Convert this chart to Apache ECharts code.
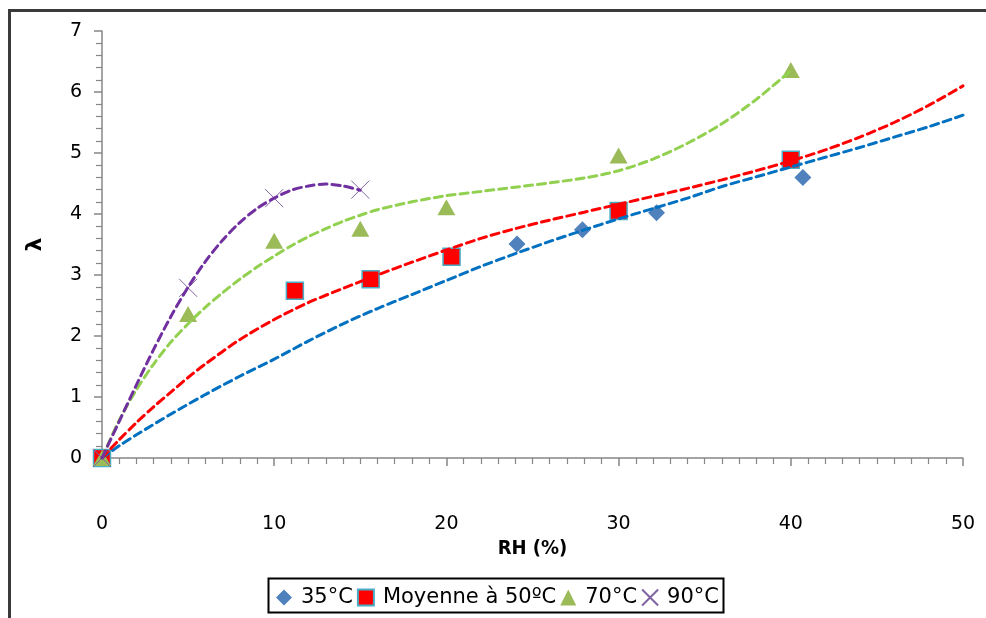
<!DOCTYPE html>
<html>
<head>
<meta charset="utf-8">
<script src="https://cdn.jsdelivr.net/npm/echarts@6/dist/echarts.min.js"></script>
<style>
  html, body { margin: 0; padding: 0; background: #ffffff; }
  #chart { width: 986px; height: 618px; }
</style>
</head>
<body>
<div id="chart"></div>
<script>
// Measured points: relative humidity (%) vs lambda
const rh35 = [0, 24.1, 27.9, 32.2, 40.7];
const lambda35 = [0, 3.51, 3.74, 4.02, 4.60];
const rh50 = [0, 11.2, 15.6, 20.3, 30, 40];
const lambda50 = [0, 2.74, 2.93, 3.30, 4.05, 4.89];
const rh70 = [0, 5, 10, 15, 20, 30, 40];
const lambda70 = [0, 2.36, 3.56, 3.76, 4.11, 4.96, 6.36];
const rh90 = [0, 5, 10, 15];
const lambda90 = [0, 2.79, 4.26, 4.40];

// Trend curves (dashed), sampled along each fitted curve
const trend35X = [0, 1, 2, 4, 6, 8, 10, 12, 14, 16, 18, 20, 22, 24, 26, 28, 30, 32, 34, 36, 38, 40, 42, 44, 46, 48, 50];
const trend35Y = [0, 0.2, 0.38, 0.72, 1.04, 1.34, 1.62, 1.92, 2.2, 2.45, 2.68, 2.91, 3.14, 3.35, 3.55, 3.74, 3.92, 4.09, 4.26, 4.45, 4.61, 4.77, 4.93, 5.09, 5.26, 5.43, 5.62];
const trend50X = [0, 1, 2, 3, 4, 5, 6, 8, 10, 12, 14, 16, 18, 20, 22, 24, 26, 28, 30, 32, 34, 36, 38, 40, 42, 44, 46, 48, 50];
const trend50Y = [0, 0.3, 0.58, 0.84, 1.08, 1.32, 1.54, 1.94, 2.27, 2.55, 2.78, 3.0, 3.21, 3.41, 3.6, 3.76, 3.9, 4.03, 4.16, 4.29, 4.42, 4.56, 4.71, 4.87, 5.05, 5.26, 5.5, 5.78, 6.1];
const trend70X = [0, 1, 2, 3, 4, 5, 6, 7, 8, 9, 10, 11, 12, 13, 14, 15, 16, 18, 20, 22, 24, 26, 28, 30, 32, 34, 36, 38, 40];
const trend70Y = [0, 0.62, 1.12, 1.54, 1.9, 2.2, 2.47, 2.71, 2.93, 3.13, 3.31, 3.48, 3.63, 3.76, 3.88, 3.98, 4.07, 4.2, 4.3, 4.37, 4.44, 4.51, 4.59, 4.71, 4.9, 5.16, 5.48, 5.88, 6.35];
const trend90X = [0, 0.5, 1, 2, 3, 4, 5, 6, 7, 8, 9, 10, 11, 12, 13, 14, 15];
const trend90Y = [0, 0.3, 0.6, 1.2, 1.78, 2.32, 2.8, 3.22, 3.57, 3.86, 4.09, 4.26, 4.39, 4.46, 4.49, 4.46, 4.39];

const seriesNames = ['35°C', 'Moyenne à 50ºC', '70°C', '90°C'];
const xTicks = { min: 0, max: 50, step: 10 };
const yTicks = { min: 0, max: 7, step: 1 };

const pairs = (xs, ys) => xs.map((x, i) => [x, ys[i]]);
const crossPath = 'path://M0,0L10,10M10,0L0,10';
const axisGrey = '#868686';
const font = 'DejaVu Sans, Verdana, sans-serif';

const chart = echarts.init(document.getElementById('chart'), null, { renderer: 'canvas' });

function trend(xs, ys, color) {
  return {
    type: 'line',
    data: pairs(xs, ys),
    smooth: 0.3,
    symbol: 'none',
    silent: true,
    z: 5,
    lineStyle: { color: color, width: 3, type: [8, 5], cap: 'round' },
    legendHoverLink: false
  };
}

const valueAxisBase = {
  type: 'value',
  splitLine: { show: false },
  axisLine: { show: true, onZero: false, lineStyle: { color: axisGrey, width: 1.5 } }
};

chart.setOption({
  animation: false,
  backgroundColor: '#ffffff',
  grid: { left: 102, right: 23, top: 31, bottom: 160, containLabel: false },
  xAxis: [
    Object.assign({}, valueAxisBase, {
      min: xTicks.min, max: xTicks.max, interval: xTicks.step,
      name: 'RH (%)', nameLocation: 'middle', nameGap: 81,
      nameTextStyle: { fontFamily: 'DejaVu Sans Condensed, DejaVu Sans, sans-serif', fontWeight: 'bold', fontSize: 20, color: '#000' },
      axisTick: { show: true, inside: false, length: 8, lineStyle: { color: axisGrey, width: 1.5 } },
      axisLabel: { margin: 57, fontFamily: font, fontSize: 19, color: '#000' }
    }),
    Object.assign({}, valueAxisBase, {
      min: xTicks.min, max: xTicks.max, interval: xTicks.step,
      axisLine: { show: false },
      axisTick: { show: true, inside: true, length: 6, lineStyle: { color: axisGrey, width: 1.5 } },
      minorTick: { show: true, splitNumber: 10, length: 6, lineStyle: { color: axisGrey, width: 1.2 } },
      axisLabel: { show: false }
    })
  ],
  yAxis: [
    Object.assign({}, valueAxisBase, {
      min: yTicks.min, max: yTicks.max, interval: yTicks.step,
      name: 'λ', nameLocation: 'middle', nameGap: 56, nameRotate: 90,
      nameTextStyle: { fontFamily: font, fontWeight: 'bold', fontSize: 22, color: '#000' },
      axisTick: { show: true, inside: false, length: 8, lineStyle: { color: axisGrey, width: 1.5 } },
      axisLabel: { margin: 20, fontFamily: font, fontSize: 19, color: '#000' }
    }),
    Object.assign({}, valueAxisBase, {
      min: yTicks.min, max: yTicks.max, interval: yTicks.step,
      axisLine: { show: false },
      axisTick: { show: true, inside: true, length: 6, lineStyle: { color: axisGrey, width: 1.5 } },
      minorTick: { show: true, splitNumber: 5, length: 6, lineStyle: { color: axisGrey, width: 1.2 } },
      axisLabel: { show: false }
    })
  ],
  legend: {
    left: 276, top: 587,
    itemGap: 4, itemWidth: 16, itemHeight: 16,
    padding: 0,
    textStyle: { fontFamily: font, fontSize: 21, color: '#000', padding: [0, 0, 0, 4] },
    data: [
      { name: seriesNames[0], icon: 'diamond' },
      { name: seriesNames[1], icon: 'rect' },
      { name: seriesNames[2], icon: 'triangle' },
      { name: seriesNames[3], icon: crossPath }
    ]
  },
  series: [
    {
      name: seriesNames[0], type: 'scatter', z: 3,
      data: pairs(rh35, lambda35),
      symbol: 'diamond', symbolSize: [17, 17],
      itemStyle: { color: '#4F81BD', opacity: 1 }
    },
    {
      name: seriesNames[1], type: 'scatter', z: 3,
      data: pairs(rh50, lambda50),
      symbol: 'rect', symbolSize: 17,
      itemStyle: { color: '#FF0000', borderColor: '#4BACC6', borderWidth: 1.5, opacity: 1 }
    },
    {
      name: seriesNames[2], type: 'scatter', z: 3,
      data: pairs(rh70, lambda70),
      symbol: 'triangle', symbolSize: [18, 16],
      itemStyle: { color: '#9BBB59', opacity: 1 }
    },
    {
      name: seriesNames[3], type: 'scatter', z: 3,
      data: pairs(rh90, lambda90),
      symbol: crossPath, symbolSize: 18,
      itemStyle: { color: 'rgba(0,0,0,0)', borderColor: '#8064A2', borderWidth: 1, opacity: 1 }
    },
    trend(trend35X, trend35Y, '#0070C0'),
    trend(trend50X, trend50Y, '#FF0000'),
    trend(trend70X, trend70Y, '#92D050'),
    trend(trend90X, trend90Y, '#7030A0')
  ],
  graphic: [
    {
      type: 'rect', silent: true, z: 100,
      shape: { x: 9.5, y: 10.5, width: 1200, height: 800 },
      style: { fill: null, stroke: '#3a3a3a', lineWidth: 3 }
    },
    {
      type: 'rect', silent: true, z: 100,
      shape: { x: 268.5, y: 578.5, width: 455, height: 34 },
      style: { fill: null, stroke: '#000000', lineWidth: 2 }
    }
  ]
});
</script>
</body>
</html>
